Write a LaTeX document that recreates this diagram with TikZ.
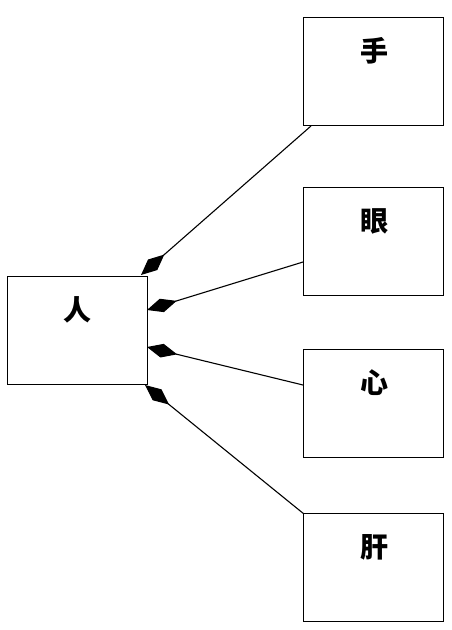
\documentclass[tikz,border=0pt]{standalone}
\usepackage{fontspec}
\newfontfamily\cjk{Noto Sans CJK SC}
\usetikzlibrary{arrows.meta}
\begin{document}
\begin{tikzpicture}[x=1pt,y=-1pt,
  box/.style={draw,line width=1.4pt,minimum width=140pt,minimum height=108pt,inner sep=0pt,anchor=north west},
  lbl/.style={font=\cjk\bfseries\fontsize{28}{32}\selectfont,inner sep=0pt},
  conn/.style={line width=1.1pt,{Diamond[length=31pt,width=14pt]}-}]
\useasboundingbox (0,0) rectangle (451,630);
\node[box] (ren) at (7,276) {};
\node[box] (shou) at (303,17) {};
\node[box] (yan) at (303,187) {};
\node[box] (xin) at (303,349) {};
\node[box] (gan) at (303,513) {};
\node[lbl] (tren) at (77,310) {人};
\node[lbl] (tshou) at (374,51) {手};
\node[lbl] (tyan) at (374,221) {眼};
\node[lbl] (txin) at (374,383) {心};
\node[lbl] (tgan) at (374,547) {肝};
\coordinate (r1) at (141,275);
\coordinate (r2) at (147,310);
\coordinate (r3) at (147,347);
\coordinate (r4) at (145,385);
\coordinate (e1) at (311,126);
\coordinate (e2) at (303,262);
\coordinate (e3) at (303,385);
\coordinate (e4) at (304,514);
\draw[conn] (r1) -- (e1);
\draw[conn] (r2) -- (e2);
\draw[conn] (r3) -- (e3);
\draw[conn] (r4) -- (e4);
\end{tikzpicture}
\end{document}
